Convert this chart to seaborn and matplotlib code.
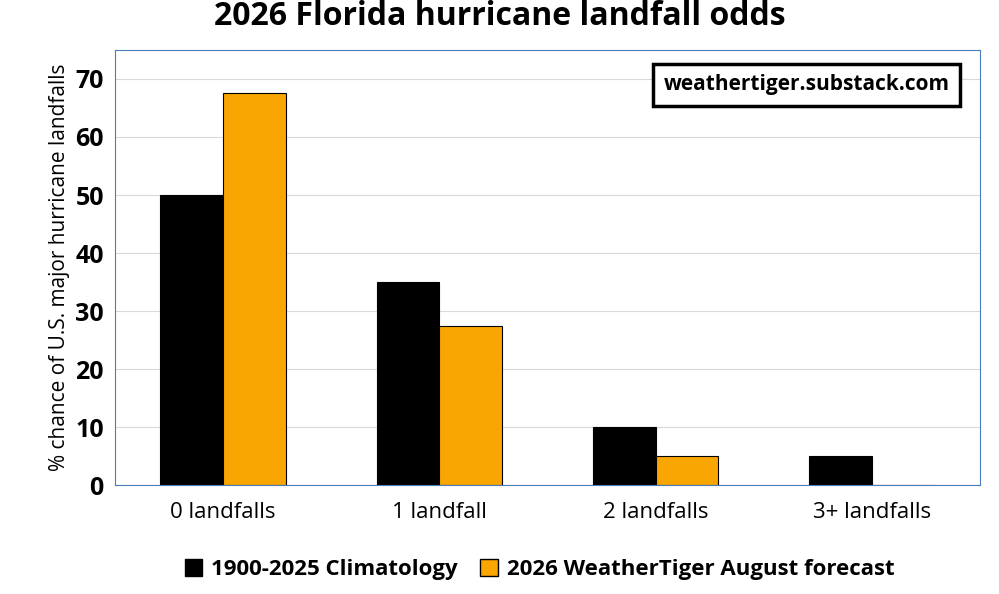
import seaborn as sns
import matplotlib.pyplot as plt
import pandas as pd
from matplotlib.patches import Patch

categories = ['0 landfalls', '1 landfall', '2 landfalls', '3+ landfalls']
climatology = [50, 35, 10, 5]
forecast = [67.5, 27.5, 5, 0]
series_names = ['1900-2025 Climatology', '2026 WeatherTiger August forecast']

df = pd.DataFrame({
    'cat': categories * 2,
    'val': climatology + forecast,
    'series': [series_names[0]] * 4 + [series_names[1]] * 4,
})

sns.set_style('white')
plt.rcParams['font.family'] = ['Open Sans', 'DejaVu Sans']
plt.rcParams['text.color'] = 'black'
plt.rcParams['axes.labelcolor'] = 'black'
plt.rcParams['xtick.color'] = 'black'
plt.rcParams['ytick.color'] = 'black'

fig = plt.figure(figsize=(9.99, 5.94), dpi=100)
ax = fig.add_axes([0.115, 0.183, 0.866, 0.733])
sns.barplot(data=df, x='cat', y='val', hue='series',
            palette=['black', '#f9a602'], saturation=1, edgecolor='black',
            linewidth=0.8, width=0.58, ax=ax, legend=False)

ax.set_ylim(0, 75)
ax.set_yticks(range(0, 71, 10))
ax.yaxis.grid(True, color='#d9d9d9', linewidth=0.8)
ax.set_axisbelow(True)
for s in ax.spines.values():
    s.set_color('#4a7ebb')
    s.set_linewidth(0.8)
ax.tick_params(axis='y', labelsize=18, length=0, pad=8)
ax.tick_params(axis='x', labelsize=16, length=0, pad=12)
for t in ax.get_yticklabels():
    t.set_fontweight('bold')
ax.set_xlabel('')
ax.set_ylabel('% chance of U.S. major hurricane landfalls', fontsize=15)
fig.suptitle('2026 Florida hurricane landfall odds', fontsize=23,
             fontweight='bold', y=1.0)

ax.text(0.965, 0.92, 'weathertiger.substack.com', transform=ax.transAxes,
        ha='right', va='center', fontsize=15, fontweight='bold',
        bbox=dict(boxstyle='square,pad=0.5', facecolor='white',
                  edgecolor='black', linewidth=2.5))

handles = [Patch(facecolor='black', edgecolor='black'),
           Patch(facecolor='#f9a602', edgecolor='black')]
fig.legend(handles, series_names, loc='lower center', ncol=2,
           bbox_to_anchor=(0.54, -0.01), frameon=False,
           prop={'size': 16, 'weight': 'bold'}, handlelength=0.8,
           handleheight=0.8, columnspacing=1.0, handletextpad=0.4)

fig.savefig('out.png', dpi=100)
